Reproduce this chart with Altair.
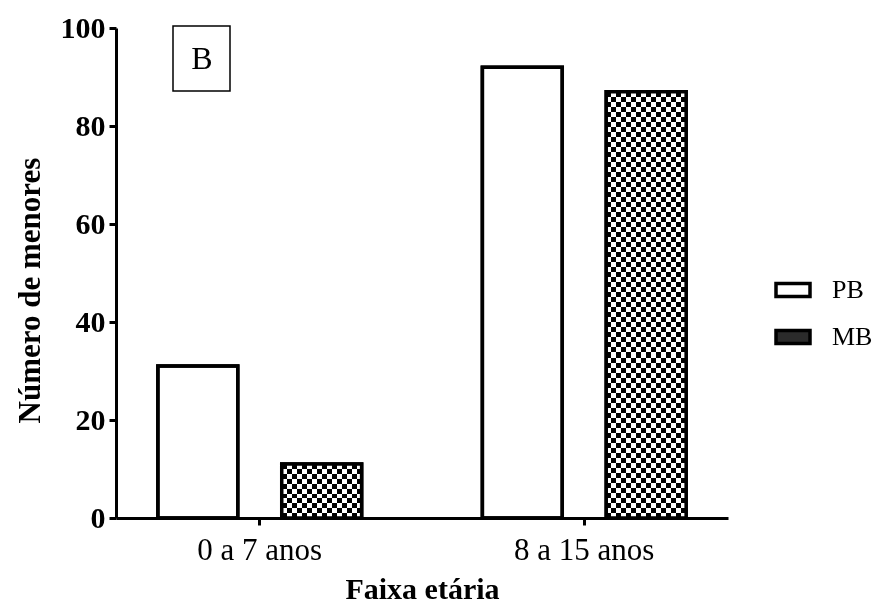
import altair as alt
import pandas as pd

# Age groups and counts per group
faixas = ["0 a 7 anos", "8 a 15 anos"]
series = ["PB", "MB"]
pb_values = [31, 92]
mb_values = [11, 87]
panel_label = ["B"]

rows = []
for f, p, m in zip(faixas, pb_values, mb_values):
    rows.append({"faixa": f, "serie": "PB", "valor": p})
    rows.append({"faixa": f, "serie": "MB", "valor": m})
df = pd.DataFrame(rows)

W, H = 612, 490
Y_MAX = 100
CELL = 5          # checker cell size (px)
BAR_W = 80        # approx. bar width (px) given the paddings below
FONT = "Liberation Serif"


def stripes(n, vertical):
    """Hard-edged black/white stripes as a linear gradient."""
    stops = []
    for i in range(n):
        c = "black" if i % 2 else "white"
        stops.append({"offset": i / n, "color": c})
        stops.append({"offset": (i + 1) / n, "color": c})
    return {
        "gradient": "linear",
        "x1": 0, "y1": 0,
        "x2": 1 if vertical else 0,
        "y2": 0 if vertical else 1,
        "stops": stops,
    }


base = alt.Chart(df).encode(
    x=alt.X(
        "faixa:N",
        sort=faixas,
        scale=alt.Scale(paddingInner=0.372, paddingOuter=0.129),
        title="Faixa etária",
        axis=alt.Axis(
            labelAngle=0,
            labelFont=FONT,
            labelFontSize=31,
            labelFontWeight="normal",
            labelColor="black",
            labelPadding=10,
            titleFont=FONT,
            titleFontSize=30,
            titleFontWeight="bold",
            titleColor="black",
            titleY=56,
            titleBaseline="top",
        ),
    ),
    xOffset=alt.XOffset(
        "serie:N", sort=series,
        scale=alt.Scale(paddingInner=0.355, paddingOuter=0),
    ),
    y=alt.Y(
        "valor:Q",
        scale=alt.Scale(domain=[0, Y_MAX], nice=False),
        title="Número de menores",
        axis=alt.Axis(
            values=[0, 20, 40, 60, 80, 100],
            grid=False,
            labelFont=FONT,
            labelFontSize=30,
            labelFontWeight="bold",
            labelColor="black",
            labelPadding=4,
            titleFont=FONT,
            titleFontSize=31,
            titleFontWeight="bold",
            titleColor="black",
            titlePadding=14,
            titleY=262,
        ),
    ),
)

# bottom layer: carries the legend (white PB, dark MB)
legend_layer = base.mark_bar(stroke="black", strokeWidth=3.5).encode(
    fill=alt.Fill(
        "serie:N",
        sort=series,
        scale=alt.Scale(domain=series, range=["white", "#2b2b2b"]),
        legend=alt.Legend(
            title=None,
            orient="none",
            legendX=658,
            legendY=243,
            symbolType="M-1,-0.38H1V0.38H-1Z",
            symbolSize=1156,
            symbolStrokeColor="black",
            symbolStrokeWidth=3.5,
            labelFont=FONT,
            labelFontSize=26,
            labelColor="black",
            labelOffset=20,
            rowPadding=14,
            padding=0,
        ),
    )
)

# checkerboard for MB: vertical stripes, then horizontal stripes in difference mode
mb_only = alt.datum.serie == "MB"
vert = base.mark_bar(fill=stripes(BAR_W // CELL, True)).transform_filter(mb_only)

horiz_layers = []
for f, m in zip(faixas, mb_values):
    n_rows = max(1, round(m * H / Y_MAX / CELL))
    horiz_layers.append(
        base.mark_bar(fill=stripes(n_rows, False), blend="difference")
        .transform_filter((alt.datum.serie == "MB") & (alt.datum.faixa == f))
    )

outline = base.mark_bar(fill="transparent", stroke="black", strokeWidth=3.5)

# panel letter in a framed box
panel = alt.Chart(pd.DataFrame({"painel": panel_label}))
box = panel.mark_rect(fill="white", stroke="black", strokeWidth=1.5).encode(
    x=alt.value(57), x2=alt.value(114), y=alt.value(-2), y2=alt.value(63)
)
letter = panel.mark_text(
    font=FONT, fontSize=32, color="black", align="center", baseline="middle"
).encode(x=alt.value(86), y=alt.value(31), text="painel:N")

chart = (
    alt.layer(legend_layer, vert, *horiz_layers, outline, box, letter)
    .properties(
        width=W,
        height=H,
        autosize=alt.AutoSizeParams(type="none"),
        padding={"left": 116, "top": 28, "right": 146, "bottom": 91},
        background="white",
    )
    .configure_view(stroke=None)
    .configure_axis(
        domainColor="black",
        domainWidth=3,
        tickColor="black",
        tickWidth=3,
        tickSize=7,
    )
)

chart.save("out.html", embed_options={"renderer": "svg", "actions": False})
